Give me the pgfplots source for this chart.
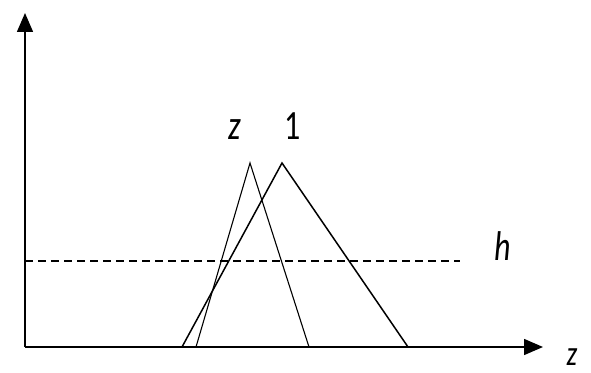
\documentclass[border=0pt]{standalone}
\usepackage{fontspec}
\setmainfont{Carlito}
\usepackage{pgfplots}
\pgfplotsset{compat=1.18}
\usetikzlibrary{arrows.meta}
\begin{document}
\begin{tikzpicture}[lbl/.style={anchor=base, inner sep=0pt, text depth=0pt, yscale=1.3}]
\begin{axis}[
    x=1pt, y=1pt,
    xmin=25, xmax=543,
    ymin=25, ymax=359,
    axis lines=left,
    axis line style={line width=1.5pt, -{Triangle[length=19pt,width=16pt]}},
    ticks=none,
    clip=false,
]
% bounding box of the whole picture
\path (axis cs:0,0) rectangle (axis cs:591,372);
% thin triangle
\addplot[black, line width=1.1pt] coordinates {(196,25) (250,209) (309,25)};
% thick triangle
\addplot[black, line width=1.5pt] coordinates {(182,25) (282,209) (408,25)};
% dashed level h
\addplot[black, line width=1.4pt, dash pattern=on 8pt off 5pt] coordinates {(25,111) (460,111)};
\node[lbl, font=\fontsize{32}{36}\selectfont\itshape] at (axis cs:235,232) {z};
\node[lbl, font=\fontsize{32}{36}\selectfont] at (axis cs:293,232) {1};
\node[lbl, font=\fontsize{32}{36}\selectfont\itshape] at (axis cs:503,112) {h};
\node[lbl, font=\fontsize{27}{32}\selectfont\itshape] at (axis cs:572,7) {z};
\end{axis}
\end{tikzpicture}
\end{document}
